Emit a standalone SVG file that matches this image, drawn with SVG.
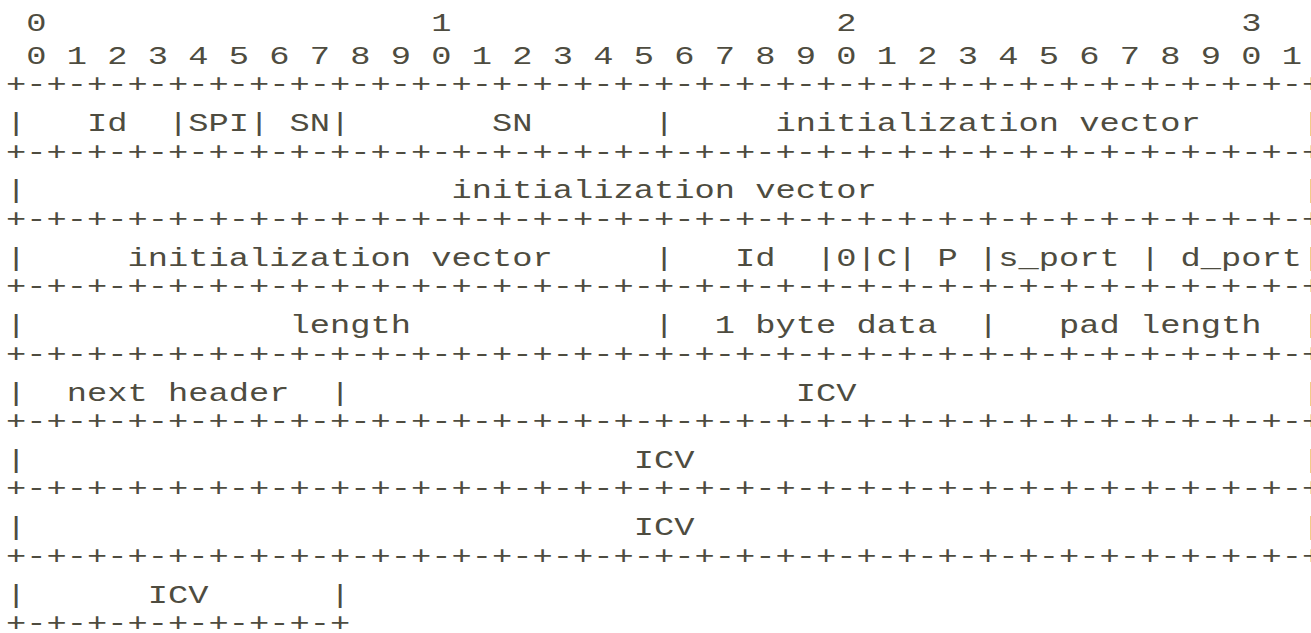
<svg xmlns="http://www.w3.org/2000/svg" width="1311" height="633" viewBox="0 0 1311 633" xml:space="preserve">
  <style>
    .t { font-family: "Liberation Mono", "DejaVu Sans Mono", monospace; font-size: 25.5px; fill: #4e4c40; white-space: pre; }
  </style>
  <rect x="0" y="0" width="1311" height="633" fill="#ffffff"/>
  <!-- monospace packet layout: 15.3px advance stretched to a 20.25px column pitch -->
  <g transform="translate(5.9 0) scale(1.3235 1)">
    <g id="bit-ruler">
      <text class="t" x="0" y="31"> 0                   1                   2                   3</text>
      <text class="t" x="0" y="64"> 0 1 2 3 4 5 6 7 8 9 0 1 2 3 4 5 6 7 8 9 0 1 2 3 4 5 6 7 8 9 0 1</text>
    </g>
    <g id="borders">
      <text class="t" x="0" y="92.5">+-+-+-+-+-+-+-+-+-+-+-+-+-+-+-+-+-+-+-+-+-+-+-+-+-+-+-+-+-+-+-+-+</text>
      <text class="t" x="0" y="159.8">+-+-+-+-+-+-+-+-+-+-+-+-+-+-+-+-+-+-+-+-+-+-+-+-+-+-+-+-+-+-+-+-+</text>
      <text class="t" x="0" y="227.1">+-+-+-+-+-+-+-+-+-+-+-+-+-+-+-+-+-+-+-+-+-+-+-+-+-+-+-+-+-+-+-+-+</text>
      <text class="t" x="0" y="294.4">+-+-+-+-+-+-+-+-+-+-+-+-+-+-+-+-+-+-+-+-+-+-+-+-+-+-+-+-+-+-+-+-+</text>
      <text class="t" x="0" y="361.7">+-+-+-+-+-+-+-+-+-+-+-+-+-+-+-+-+-+-+-+-+-+-+-+-+-+-+-+-+-+-+-+-+</text>
      <text class="t" x="0" y="429">+-+-+-+-+-+-+-+-+-+-+-+-+-+-+-+-+-+-+-+-+-+-+-+-+-+-+-+-+-+-+-+-+</text>
      <text class="t" x="0" y="496.3">+-+-+-+-+-+-+-+-+-+-+-+-+-+-+-+-+-+-+-+-+-+-+-+-+-+-+-+-+-+-+-+-+</text>
      <text class="t" x="0" y="563.6">+-+-+-+-+-+-+-+-+-+-+-+-+-+-+-+-+-+-+-+-+-+-+-+-+-+-+-+-+-+-+-+-+</text>
      <text class="t" x="0" y="630.9">+-+-+-+-+-+-+-+-+</text>
    </g>
    <g id="word-1">
      <text class="t" x="0" y="131">|   Id  |SPI| SN|       SN      |     initialization vector     |</text>
    </g>
    <g id="word-2">
      <text class="t" x="0" y="198.4">|                     initialization vector                     |</text>
    </g>
    <g id="word-3">
      <text class="t" x="0" y="265.8">|     initialization vector     |   Id  |0|C| P |s_port | d_port|</text>
    </g>
    <g id="word-4">
      <text class="t" x="0" y="333.2">|             length            |  1 byte data  |   pad length  |</text>
    </g>
    <g id="word-5">
      <text class="t" x="0" y="400.6">|  next header  |                      ICV                      |</text>
    </g>
    <g id="word-6">
      <text class="t" x="0" y="468">|                              ICV                              |</text>
    </g>
    <g id="word-7">
      <text class="t" x="0" y="535.4">|                              ICV                              |</text>
    </g>
    <g id="word-8">
      <text class="t" x="0" y="602.8">|      ICV      |</text>
    </g>
  </g>
</svg>
